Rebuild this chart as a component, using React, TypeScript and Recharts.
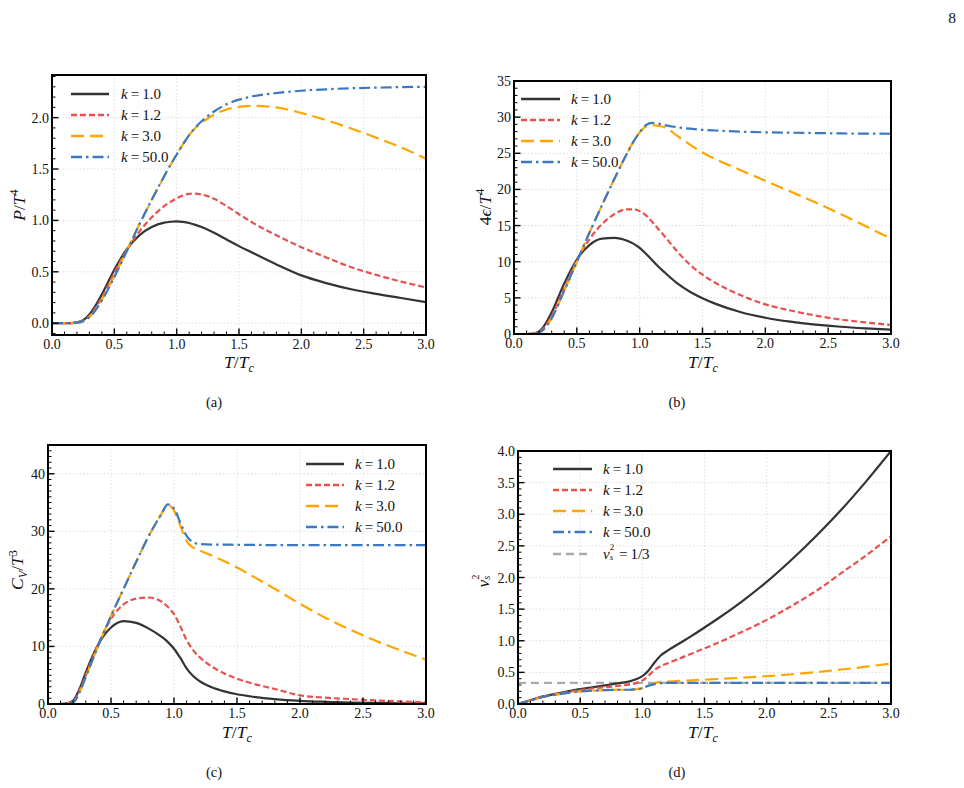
import React from 'react';
import { LineChart, Line, XAxis, YAxis, CartesianGrid, ReferenceLine } from 'recharts';

// T/Tc sample points shared by all four panels
const tRatio = [0, 0.1, 0.15, 0.2, 0.25, 0.3, 0.4, 0.5, 0.6, 0.7, 0.8, 0.9, 0.95, 1.0, 1.05, 1.1, 1.15, 1.2, 1.3, 1.4, 1.5, 1.6, 1.8, 2.0, 2.2, 2.4, 2.6, 2.8, 3.0];

const kValues = ['1.0', '1.2', '3.0', '50.0'];

// (a) pressure P/T^4
const pressureK1 = [0, 0, 0.001, 0.008, 0.03, 0.085, 0.28, 0.52, 0.72, 0.855, 0.935, 0.978, 0.987, 0.99, 0.985, 0.975, 0.957, 0.935, 0.88, 0.815, 0.75, 0.69, 0.572, 0.465, 0.39, 0.33, 0.285, 0.245, 0.205];
const pressureK12 = [0, 0, 0.001, 0.006, 0.025, 0.07, 0.25, 0.49, 0.71, 0.89, 1.03, 1.14, 1.18, 1.215, 1.243, 1.258, 1.26, 1.252, 1.21, 1.14, 1.06, 0.985, 0.855, 0.74, 0.64, 0.545, 0.47, 0.405, 0.347];
const pressureK3 = [0, 0, 0.001, 0.005, 0.02, 0.06, 0.23, 0.46, 0.71, 0.96, 1.2, 1.43, 1.54, 1.64, 1.74, 1.83, 1.9, 1.95, 2.03, 2.08, 2.105, 2.115, 2.1, 2.045, 1.975, 1.895, 1.805, 1.71, 1.6];
const pressureK50 = [0, 0, 0.001, 0.005, 0.02, 0.058, 0.22, 0.45, 0.7, 0.96, 1.2, 1.43, 1.54, 1.64, 1.74, 1.83, 1.905, 1.965, 2.06, 2.13, 2.175, 2.205, 2.24, 2.262, 2.276, 2.286, 2.292, 2.297, 2.3];

// (b) energy density 4e/T^4
const energyK1 = [0, 0, 0.05, 0.35, 1.4, 3.0, 7.0, 10.3, 12.3, 13.2, 13.3, 12.9, 12.5, 11.9, 11.1, 10.2, 9.3, 8.5, 7.0, 5.85, 4.95, 4.2, 3.05, 2.25, 1.7, 1.3, 1.0, 0.78, 0.6];
const energyK12 = [0, 0, 0.03, 0.25, 1.1, 2.5, 6.3, 10.2, 13.1, 15.2, 16.6, 17.25, 17.25, 17.0, 16.4, 15.5, 14.5, 13.5, 11.4, 9.6, 8.2, 7.1, 5.4, 4.1, 3.25, 2.55, 2.0, 1.6, 1.25];
const energyK3 = [0, 0, 0.02, 0.2, 0.9, 2.2, 6.0, 10.0, 14.0, 17.8, 21.5, 25.0, 26.6, 27.9, 28.7, 28.9, 28.8, 28.6, 27.4, 26.2, 25.1, 24.2, 22.7, 21.2, 19.7, 18.2, 16.6, 14.9, 13.2];
const energyK50 = [0, 0, 0.02, 0.2, 0.9, 2.2, 6.0, 10.0, 14.0, 17.8, 21.5, 25.0, 26.6, 27.9, 28.9, 29.2, 29.1, 28.9, 28.6, 28.4, 28.25, 28.15, 28.0, 27.9, 27.85, 27.8, 27.75, 27.72, 27.7];

// (c) heat capacity C_V/T^3
const heatK1 = [0, 0, 0.1, 0.6, 2.6, 5.5, 10.4, 13.3, 14.4, 14.1, 13.1, 11.7, 10.8, 9.6, 8.0, 6.2, 4.9, 4.0, 2.9, 2.2, 1.7, 1.35, 0.85, 0.55, 0.38, 0.26, 0.18, 0.13, 0.1];
const heatK12 = [0, 0, 0.08, 0.4, 2.3, 5.0, 10.4, 14.8, 17.3, 18.3, 18.5, 17.8, 16.9, 15.6, 13.5, 11.1, 9.4, 8.2, 6.5, 5.3, 4.4, 3.7, 2.6, 1.5, 1.1, 0.85, 0.62, 0.45, 0.3];
const heatK3 = [0, 0, 0.05, 0.3, 2.0, 4.7, 10.2, 15.3, 20.0, 24.7, 29.2, 33.0, 34.6, 33.6, 31.0, 28.3, 27.2, 26.7, 25.8, 24.8, 23.7, 22.5, 20.0, 17.4, 15.0, 12.9, 11.0, 9.3, 7.7];
const heatK50 = [0, 0, 0.05, 0.3, 2.0, 4.7, 10.2, 15.3, 20.0, 24.7, 29.2, 33.0, 34.7, 34.0, 31.5, 29.2, 28.1, 27.8, 27.7, 27.7, 27.65, 27.65, 27.6, 27.6, 27.6, 27.6, 27.6, 27.6, 27.6];

// (d) speed of sound squared
const soundK1 = [0, 0.06, 0.09, 0.12, 0.14, 0.16, 0.2, 0.235, 0.265, 0.295, 0.325, 0.36, 0.39, 0.44, 0.53, 0.66, 0.77, 0.84, 0.96, 1.08, 1.21, 1.34, 1.62, 1.93, 2.28, 2.66, 3.07, 3.52, 4.0];
const soundK12 = [0, 0.06, 0.09, 0.115, 0.135, 0.155, 0.19, 0.22, 0.245, 0.265, 0.285, 0.31, 0.33, 0.37, 0.45, 0.54, 0.6, 0.64, 0.72, 0.8, 0.88, 0.96, 1.14, 1.33, 1.55, 1.79, 2.07, 2.35, 2.65];
const soundK3 = [0, 0.055, 0.085, 0.11, 0.13, 0.145, 0.175, 0.2, 0.21, 0.22, 0.225, 0.225, 0.235, 0.25, 0.29, 0.33, 0.35, 0.355, 0.365, 0.375, 0.385, 0.395, 0.415, 0.44, 0.47, 0.505, 0.545, 0.59, 0.64];
const soundK50 = [0, 0.055, 0.085, 0.11, 0.13, 0.145, 0.175, 0.2, 0.21, 0.22, 0.225, 0.225, 0.235, 0.25, 0.29, 0.315, 0.33, 0.333, 0.333, 0.333, 0.333, 0.333, 0.333, 0.333, 0.333, 0.333, 0.333, 0.333, 0.333];
const conformalLimit = 1 / 3;

// axis ticks
const xMajor = [0, 0.5, 1.0, 1.5, 2.0, 2.5, 3.0];
const pressureTicks = [0, 0.5, 1.0, 1.5, 2.0];
const energyTicks = [0, 5, 10, 15, 20, 25, 30, 35];
const heatTicks = [0, 10, 20, 30, 40];
const soundTicks = [0, 0.5, 1.0, 1.5, 2.0, 2.5, 3.0, 3.5, 4.0];

const FONT = "'Liberation Serif', 'Times New Roman', serif";
const KEYS = ['k1', 'k12', 'k3', 'k50'];
const STYLES = [
  { color: '#333333', dash: undefined as string | undefined },
  { color: '#e8514e', dash: '6 3' },
  { color: '#ffa500', dash: '13 6' },
  { color: '#3a78c2', dash: '11 4 2.5 4' },
];
const GREY = { color: '#aaaaaa', dash: '8 5' };

const steps = (lo: number, hi: number, step: number) => {
  const out: number[] = [];
  const first = Math.ceil(lo / step - 1e-9);
  const last = Math.floor(hi / step + 1e-9);
  for (let i = first; i <= last; i++) out.push(Number((i * step).toFixed(4)));
  return out;
};

const isIn = (list: number[], v: number) => list.some((m) => Math.abs(m - v) < 1e-6);

const makeXTick = (majors: number[]) => (props: any) => {
  const { x, y, payload } = props;
  const major = isIn(majors, payload.value);
  return (
    <g>
      <line x1={x} x2={x} y1={y} y2={y - (major ? 6.5 : 3.5)} stroke="#000" strokeWidth={major ? 1.4 : 1} />
      {major && (
        <text x={x} y={y + 14} textAnchor="middle" fontSize={14} fontFamily={FONT} fill="#111">
          {payload.value.toFixed(1)}
        </text>
      )}
    </g>
  );
};

const makeYTick = (majors: number[], decimals: number) => (props: any) => {
  const { x, y, payload } = props;
  const major = isIn(majors, payload.value);
  return (
    <g>
      <line x1={x} x2={x + (major ? 6.5 : 3.5)} y1={y} y2={y} stroke="#000" strokeWidth={major ? 1.4 : 1} />
      {major && (
        <text x={x - 3} y={y + 5} textAnchor="end" fontSize={14} fontFamily={FONT} fill="#111">
          {payload.value.toFixed(decimals)}
        </text>
      )}
    </g>
  );
};

type PanelCfg = {
  left: number;
  top: number;
  w: number;
  h: number;
  series: number[][];
  yDomain: [number, number];
  yMajor: number[];
  yMinorStep: number;
  decimals: number;
  refY?: number;
};

function Panel({ cfg }: { cfg: PanelCfg }) {
  const rows = tRatio.map((t, i) => {
    const r: Record<string, number> = { t };
    cfg.series.forEach((s, j) => {
      r[KEYS[j]] = s[i];
    });
    return r;
  });
  const xTicks = steps(0, 3, 0.1);
  const yTicks = steps(cfg.yDomain[0], cfg.yDomain[1], cfg.yMinorStep);
  return (
    <>
      <div style={{ position: 'absolute', left: cfg.left - 50, top: cfg.top - 10 }}>
        <LineChart width={cfg.w + 70} height={cfg.h + 40} data={rows} margin={{ top: 10, right: 20, bottom: 0, left: 0 }}>
          <CartesianGrid
            stroke="#d6d6d6"
            strokeDasharray="1.5 2"
            strokeWidth={0.8}
            horizontalValues={cfg.yMajor}
            verticalValues={xMajor}
          />
          <XAxis
            type="number"
            dataKey="t"
            domain={[0, 3]}
            ticks={xTicks}
            interval={0}
            tickSize={0}
            tickMargin={0}
            axisLine={false}
            tickLine={false}
            tick={makeXTick(xMajor)}
            height={30}
            allowDataOverflow
          />
          <YAxis
            type="number"
            domain={cfg.yDomain}
            ticks={yTicks}
            interval={0}
            tickSize={0}
            tickMargin={0}
            axisLine={false}
            tickLine={false}
            tick={makeYTick(cfg.yMajor, cfg.decimals)}
            width={50}
            allowDataOverflow
          />
          {cfg.refY !== undefined && (
            <ReferenceLine y={cfg.refY} stroke={GREY.color} strokeDasharray={GREY.dash} strokeWidth={2.2} />
          )}
          {KEYS.map((k, j) => (
            <Line
              key={k}
              dataKey={k}
              type="monotone"
              stroke={STYLES[j].color}
              strokeDasharray={STYLES[j].dash}
              strokeWidth={2.2}
              dot={false}
              isAnimationActive={false}
            />
          ))}
        </LineChart>
      </div>
      {/* heavy frame around the plotting area */}
      <div
        style={{
          position: 'absolute',
          left: cfg.left - 1.5,
          top: cfg.top - 1.5,
          width: cfg.w,
          height: cfg.h,
          border: '1.5px solid #000',
          outline: '1px solid #000',
          outlineOffset: -2.5,
          pointerEvents: 'none',
        }}
      />
    </>
  );
}

const abs = (x: number, y: number): React.CSSProperties => ({
  position: 'absolute',
  left: x,
  top: y,
  transform: 'translate(-50%, -50%)',
  whiteSpace: 'nowrap',
  lineHeight: 1,
});

const kLabel = (v: string) => (
  <>
    <i>k</i>
    {'\u2009=\u2009'}
    {v}
  </>
);

const sup: React.CSSProperties = { fontSize: '0.7em', verticalAlign: '0.55em' };
const sub: React.CSSProperties = { fontSize: '0.7em', verticalAlign: '-0.3em' };

// v with stacked superscript 2 and subscript s
const VsSq = ({ size }: { size: number }) => (
  <>
    <i>v</i>
    <span style={{ position: 'relative', display: 'inline-block', width: size * 0.42, height: 1 }}>
      <span style={{ position: 'absolute', left: 0, top: -size * 1.0, fontSize: size * 0.6, lineHeight: 1 }}>2</span>
      <i style={{ position: 'absolute', left: 0, top: -size * 0.32, fontSize: size * 0.6, lineHeight: 1 }}>s</i>
    </span>
  </>
);

function LegendBox({ x0, x1, textX, rows }: { x0: number; x1: number; textX: number; rows: { y: number; color: string; dash?: string; label: React.ReactNode }[] }) {
  return (
    <>
      {rows.map((r, i) => (
        <React.Fragment key={i}>
          <svg style={{ position: 'absolute', left: x0, top: r.y - 3 }} width={x1 - x0} height={6}>
            <line x1={0} x2={x1 - x0} y1={3} y2={3} stroke={r.color} strokeWidth={2.4} strokeDasharray={r.dash} />
          </svg>
          <div style={{ position: 'absolute', left: textX, top: r.y, transform: 'translateY(-50%)', fontSize: 15, lineHeight: 1, whiteSpace: 'nowrap' }}>
            {r.label}
          </div>
        </React.Fragment>
      ))}
    </>
  );
}

const kRows = (ys: number[]) =>
  ys.map((y, j) => ({ y, color: STYLES[j].color, dash: STYLES[j].dash, label: kLabel(kValues[j]) }));

const panels: PanelCfg[] = [
  { left: 52, top: 75, w: 374, h: 260, series: [pressureK1, pressureK12, pressureK3, pressureK50], yDomain: [-0.115, 2.415], yMajor: pressureTicks, yMinorStep: 0.1, decimals: 1 },
  { left: 514, top: 81, w: 377, h: 253, series: [energyK1, energyK12, energyK3, energyK50], yDomain: [0, 35], yMajor: energyTicks, yMinorStep: 1, decimals: 0 },
  { left: 48, top: 445, w: 378, h: 259, series: [heatK1, heatK12, heatK3, heatK50], yDomain: [0, 45], yMajor: heatTicks, yMinorStep: 1, decimals: 0 },
  { left: 518, top: 451, w: 373, h: 253, series: [soundK1, soundK12, soundK3, soundK50], yDomain: [0, 4], yMajor: soundTicks, yMinorStep: 0.1, decimals: 1, refY: conformalLimit },
];

const TTc = () => (
  <>
    <i>T</i>/<i>T</i>
    <i style={sub}>c</i>
  </>
);

export default function App() {
  return (
    <div style={{ position: 'absolute', left: 0, top: 0, width: 964, height: 788, background: '#fff', fontFamily: FONT, color: '#111', overflow: 'hidden' }}>
      {panels.map((p, i) => (
        <Panel key={i} cfg={p} />
      ))}

      {/* axis titles */}
      <div style={{ ...abs(18, 205), fontSize: 17.5, transform: 'translate(-50%, -50%) rotate(-90deg)' }}>
        <i>P</i>/<i>T</i>
        <span style={sup}>4</span>
      </div>
      <div style={{ ...abs(484, 207), fontSize: 17.5, transform: 'translate(-50%, -50%) rotate(-90deg)' }}>
        4<i>ϵ</i>/<i>T</i>
        <span style={sup}>4</span>
      </div>
      <div style={{ ...abs(18, 570), fontSize: 17.5, transform: 'translate(-50%, -50%) rotate(-90deg)' }}>
        <i>C</i>
        <i style={sub}>V</i>/<i>T</i>
        <span style={sup}>3</span>
      </div>
      <div style={{ ...abs(484, 580), fontSize: 17.5, transform: 'translate(-50%, -50%) rotate(-90deg)' }}>
        <VsSq size={17.5} />
      </div>
      <div style={{ ...abs(239, 364), fontSize: 17.5 }}><TTc /></div>
      <div style={{ ...abs(703, 364), fontSize: 17.5 }}><TTc /></div>
      <div style={{ ...abs(237, 734), fontSize: 17.5 }}><TTc /></div>
      <div style={{ ...abs(703, 734), fontSize: 17.5 }}><TTc /></div>

      {/* legends */}
      <LegendBox x0={71} x1={109} textX={121} rows={kRows([94, 115, 136, 157])} />
      <LegendBox x0={521} x1={560} textX={571} rows={kRows([99, 120, 141, 162])} />
      <LegendBox x0={306} x1={344} textX={355} rows={kRows([464, 485, 506, 527])} />
      <LegendBox
        x0={553}
        x1={592}
        textX={603}
        rows={[
          ...kRows([469, 490, 511, 532]),
          {
            y: 554,
            color: GREY.color,
            dash: GREY.dash,
            label: (
              <>
                <VsSq size={15} />
                {'\u2009=\u2009'}1/3
              </>
            ),
          },
        ]}
      />

      {/* sub-figure captions */}
      <div style={{ ...abs(214, 402), fontSize: 14.5 }}>(a)</div>
      <div style={{ ...abs(677, 402), fontSize: 14.5 }}>(b)</div>
      <div style={{ ...abs(214, 772), fontSize: 14.5 }}>(c)</div>
      <div style={{ ...abs(677, 772), fontSize: 14.5 }}>(d)</div>
      <div style={{ ...abs(952, 18), fontSize: 15.5 }}>8</div>
    </div>
  );
}
